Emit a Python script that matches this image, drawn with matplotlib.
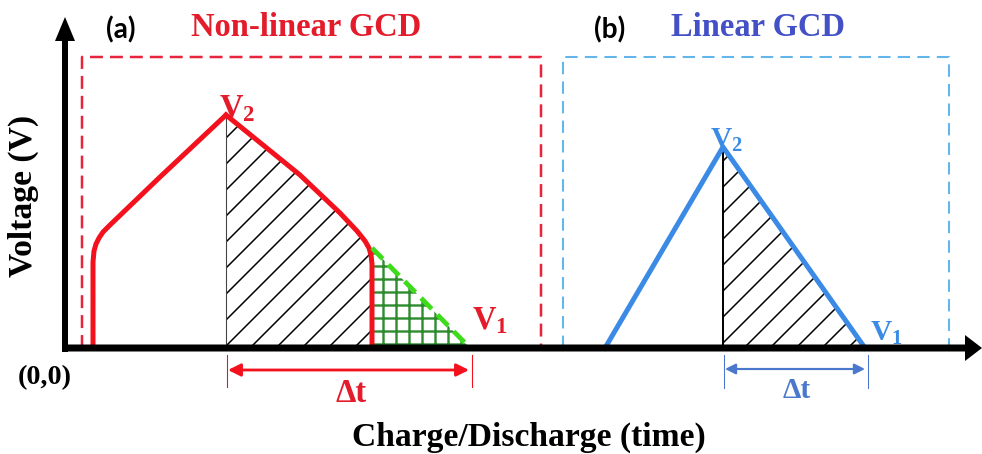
import matplotlib
matplotlib.use("Agg")
import matplotlib.pyplot as plt

# schematic GCD curves, time / voltage in arbitrary units (origin = axes corner)
red_charge_t = [28, 28, 29, 31, 34, 38, 45, 95, 161]
red_charge_v = [0, 86, 97, 104, 110, 116, 123, 171, 233]
red_dis_t = [161, 235, 275, 292, 300, 304, 306, 307, 307]
red_dis_v = [233, 173, 135, 117, 107, 100, 93, 84, 0]
green_t = [307, 405]
green_v = [100, 0]
blue_t = [540, 658, 800]
blue_v = [0, 201, 0]

red_box_t = [17, 17, 476, 476]
box_v = [0, 291, 291, 0]
blue_box_t = [498, 498, 884, 884]

red_dt = [162, 407]
blue_dt = [659, 803]

RED = '#f2111c'
RED_TXT = '#e31b2b'
BLUE = '#3a8ae6'
BLUE_TXT = '#4350c6'
BLUE_DT = '#4a78cc'

plt.rcParams['mathtext.fontset'] = 'custom'
plt.rcParams['mathtext.bf'] = 'Liberation Serif:bold'
plt.rcParams['mathtext.rm'] = 'Liberation Serif'
plt.rcParams['hatch.linewidth'] = 1.4

DPI = 78
fig = plt.figure(figsize=(982 / DPI, 454 / DPI), dpi=DPI)
ax = fig.add_axes([0, 0, 1, 1])
ax.set_xlim(-65, 917)
ax.set_ylim(-106, 348)
ax.axis('off')

serif = dict(family='Liberation Serif', weight='bold')

# dashed frames
ax.plot(red_box_t, box_v, color='#e8243c', lw=2.3, dashes=(5.2, 2.8))
ax.plot(blue_box_t, box_v, color='#62b6ec', lw=1.9, dashes=(6, 3.5))

# hatched areas
h1 = ax.fill_between(red_dis_t, 0, red_dis_v, facecolor='none', edgecolor='k', hatch='/', linewidth=0)
h2 = ax.fill_between(blue_t[1:], 0, blue_v[1:], facecolor='none', edgecolor='k', hatch='/', linewidth=0)
h3 = ax.fill_between(green_t, 0, green_v, facecolor='none', edgecolor='#2e8b2e', hatch='+', linewidth=0)
if hasattr(h3, 'set_hatch_linewidth'):
    h3.set_hatch_linewidth(2.2)

ax.plot([red_dis_t[0], red_dis_t[0]], [0, red_dis_v[0]], color='#444444', lw=1.0)
ax.plot([blue_t[1], blue_t[1]], [0, blue_v[1]], color='k', lw=1.8)

# curves
ax.plot(red_charge_t, red_charge_v, color=RED, lw=4.6, solid_joinstyle='round')
ax.plot(red_dis_t, red_dis_v, color=RED, lw=4.6, solid_joinstyle='round')
ax.plot(green_t, green_v, color='#3ddc1a', lw=4.4, dashes=(3.2, 1.7))
ax.plot(blue_t, blue_v, color=BLUE, lw=4.6, solid_joinstyle='miter')

# axes arrows
ax.arrow(0, -4, 0, 335, width=6, head_width=20, head_length=24,
         length_includes_head=True, fc='k', ec='none', zorder=5)
ax.arrow(-3, 0, 920, 0, width=7, head_width=26, head_length=17,
         length_includes_head=True, fc='k', ec='none', zorder=5)

# delta t markers
for t in red_dt:
    ax.plot([t, t], [-7, -39], color=RED, lw=1.0)
ax.annotate('', xy=(red_dt[1] - 3, -22), xytext=(red_dt[0] + 1, -22),
            arrowprops=dict(arrowstyle='<|-|>', color=RED, lw=2.6, mutation_scale=24,
                            shrinkA=0, shrinkB=0))
for t in blue_dt:
    ax.plot([t, t], [-7, -40], color=BLUE_DT, lw=1.0)
ax.annotate('', xy=(blue_dt[1] - 3, -21), xytext=(blue_dt[0] + 1, -21),
            arrowprops=dict(arrowstyle='<|-|>', color=BLUE_DT, lw=2.0, mutation_scale=20,
                            shrinkA=0, shrinkB=0))

# labels
ax.text(286, -45, 'Δt', color=RED_TXT, fontsize=30, ha='center', va='center', **serif)
ax.text(732, -42, 'Δt', color=BLUE_DT, fontsize=27, ha='center', va='center', **serif)

ax.text(154, 231, r'$\mathbf{V_2}$', color=RED_TXT, fontsize=30, ha='left', va='baseline')
ax.text(407, 19, r'$\mathbf{V_1}$', color=RED_TXT, fontsize=30, ha='left', va='baseline')
ax.text(645, 200, r'$\mathbf{V_2}$', color=BLUE, fontsize=27, ha='left', va='baseline')
ax.text(805, 7, r'$\mathbf{V_1}$', color=BLUE, fontsize=27, ha='left', va='baseline')

ax.text(56, 318, '(a)', fontsize=26, family='Lato', weight='bold', ha='center', va='center')
ax.text(545, 318, '(b)', fontsize=26, family='Lato', weight='bold', ha='center', va='center')
ax.text(241, 320, 'Non-linear GCD', color=RED_TXT, fontsize=30, ha='center', va='center', **serif)
ax.text(693, 320, 'Linear GCD', color=BLUE_TXT, fontsize=30, ha='center', va='center', **serif)

ax.text(-42, 152, 'Voltage (V)', fontsize=31, rotation=90, ha='center', va='center', **serif)
ax.text(-20, -30, '(0,0)', fontsize=26, ha='center', va='center', **serif)
ax.text(464, -89, 'Charge/Discharge (time)', fontsize=31, ha='center', va='center', **serif)

fig.savefig('out.png', dpi=DPI)
